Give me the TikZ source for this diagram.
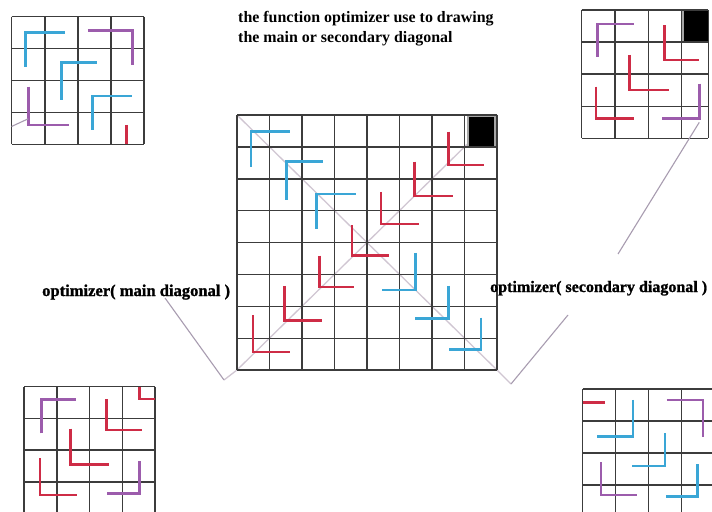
\documentclass[tikz,border=0pt]{standalone}
\usepackage{fontspec}
\setmainfont{Liberation Serif}
\newfontfamily\titlefont{Liberation Serif Bold}
\newfontfamily\lblfont{Liberation Serif Bold}[FakeBold=1.2]
\definecolor{lblue}{RGB}{58,166,214}
\definecolor{lred}{RGB}{206,44,70}
\definecolor{lpurple}{RGB}{156,92,172}
\definecolor{gridc}{RGB}{60,60,60}
\definecolor{diagc}{RGB}{208,198,210}
\definecolor{connc}{RGB}{168,156,176}
\tikzset{
  gridline/.style={draw=gridc, line width=1.5bp},
  Lb/.style={draw=lblue, line width=2.6bp},
  Lr/.style={draw=lred, line width=2.6bp},
  Lp/.style={draw=lpurple, line width=2.6bp},
  diagline/.style={draw=diagc, line width=1.3bp},
  connline/.style={draw=connc, line width=1.1bp},
  titletext/.style={inner sep=0pt, font=\titlefont\fontsize{16}{18}\selectfont},
  lbltext/.style={inner sep=0pt, font=\lblfont\fontsize{16.6}{19}\selectfont},
  lbltextsmall/.style={inner sep=0pt, font=\lblfont\fontsize{16.1}{19}\selectfont},
}
\begin{document}
\begin{tikzpicture}[x=1bp,y=-1bp]
\useasboundingbox (0,0) rectangle (712,512);
\clip (0,0) rectangle (712,512);
\fill[white] (0,0) rectangle (712,512);

% ---------- center grid ----------
\coordinate (cTL) at (237,115);
\coordinate (cTR) at (497,115);
\coordinate (cBL) at (237,370);
\coordinate (cBR) at (497,370);
\coordinate (extBL) at (224,380);
\coordinate (extBR) at (511,384);
\draw[diagline] (cTL) -- (cBR) -- (extBR);
\draw[diagline] (cTR) -- (cBL) -- (extBL);
\begin{scope}[shift={(237,115)}, x=32.5bp, y=-31.9bp]
  \fill[gray!70] (7.07,0.04) rectangle (7.97,1);
  \fill[black] (7.15,0.06) rectangle (7.9,1);
  \foreach \i in {0,...,8} {
    \draw[gridline] (\i,0) -- (\i,8);
    \draw[gridline] (0,\i) -- (8,\i);
  }
  % blue top-left
  \draw[Lb] (0.43,1.62) -- (0.43,0.52) -- (1.62,0.52);
  \draw[Lb] (1.52,2.65) -- (1.52,1.46) -- (2.65,1.46);
  \draw[Lb] (2.44,3.56) -- (2.44,2.48) -- (3.67,2.48);
  % red along secondary diagonal
  \draw[Lr] (6.51,0.52) -- (6.51,1.57) -- (7.61,1.57);
  \draw[Lr] (5.46,1.46) -- (5.46,2.54) -- (6.65,2.54);
  \draw[Lr] (4.43,2.41) -- (4.43,3.42) -- (5.59,3.42);
  \draw[Lr] (3.54,3.45) -- (3.54,4.41) -- (4.67,4.41);
  \draw[Lr] (2.54,4.41) -- (2.54,5.39) -- (3.61,5.39);
  \draw[Lr] (1.46,5.36) -- (1.46,6.45) -- (2.63,6.45);
  \draw[Lr] (0.49,6.28) -- (0.49,7.43) -- (1.62,7.43);
  % blue bottom-right
  \draw[Lb] (5.49,4.32) -- (5.49,5.49) -- (4.46,5.49);
  \draw[Lb] (6.51,5.36) -- (6.51,6.38) -- (5.49,6.38);
  \draw[Lb] (7.51,6.35) -- (7.51,7.35) -- (6.51,7.35);
\end{scope}

% ---------- top-left grid ----------
\begin{scope}[shift={(11.7,16.7)}, x=33.1bp, y=-31.9bp]
  \foreach \i in {0,...,4} {
    \draw[gridline] (\i,0) -- (\i,4);
    \draw[gridline] (0,\i) -- (4,\i);
  }
  \draw[Lb] (0.42,1.57) -- (0.42,0.49) -- (1.61,0.49);
  \draw[Lp] (2.30,0.44) -- (3.65,0.44) -- (3.65,1.51);
  \draw[Lb] (1.51,2.61) -- (1.51,1.43) -- (2.59,1.43);
  \draw[Lb] (2.44,3.55) -- (2.44,2.48) -- (3.63,2.48);
  \draw[Lp] (0.5,2.19) -- (0.5,3.39) -- (1.73,3.39);
  \draw[Lr] (3.47,3.39) -- (3.47,4);
  \coordinate (tlCorner) at (0.5,3.2);
\end{scope}
\coordinate (tlStub) at (11.5,126.5);
\draw[connline] (tlStub) -- (tlCorner);

% ---------- top-right grid ----------
\begin{scope}[shift={(581.7,10)}, x=33.3bp, y=-32.1bp]
  \fill[gray!70] (3.0,0.03) rectangle (3.1,0.99);
  \fill[black] (3.08,0.03) rectangle (3.78,0.99);
  \foreach \i in {0,...,3} {
    \draw[gridline] (\i,0) -- (\i,4);
  }
  \draw[gridline] (3.8,0) -- (3.8,4);
  \foreach \i in {0,...,4} {
    \draw[gridline] (0,\i) -- (3.8,\i);
  }
  \draw[Lp] (0.47,1.45) -- (0.47,0.44) -- (1.57,0.44);
  \draw[Lr] (2.48,0.47) -- (2.48,1.56) -- (3.53,1.56);
  \draw[Lr] (1.43,1.40) -- (1.43,2.49) -- (2.62,2.49);
  \draw[Lr] (0.43,2.39) -- (0.43,3.38) -- (1.57,3.38);
  \draw[Lp] (3.53,2.29) -- (3.53,3.38) -- (2.40,3.38);
  \coordinate (trCorner) at (3.53,3.5);
\end{scope}

% ---------- bottom-left grid ----------
\begin{scope}[shift={(24,386.7)}, x=32.75bp, y=-31.7bp]
  \foreach \i in {0,...,4} {
    \draw[gridline] (\i,0) -- (\i,4);
    \draw[gridline] (0,\i) -- (4,\i);
  }
  \draw[Lp] (0.54,1.47) -- (0.54,0.40) -- (1.59,0.40);
  \draw[Lr] (3.52,0) -- (3.52,0.39) -- (4,0.39);
  \draw[Lr] (2.52,0.39) -- (2.52,1.37) -- (3.59,1.37);
  \draw[Lr] (1.42,1.32) -- (1.42,2.45) -- (2.61,2.45);
  \draw[Lr] (0.49,2.26) -- (0.49,3.42) -- (1.63,3.42);
  \draw[Lp] (3.52,2.35) -- (3.52,3.37) -- (2.54,3.37);
\end{scope}

% ---------- bottom-right grid ----------
\begin{scope}[shift={(582.7,389)}, x=33bp, y=-32bp]
  \foreach \i in {0,...,4} {
    \draw[gridline] (\i,0) -- (\i,4);
    \draw[gridline] (0,\i) -- (4,\i);
  }
  \draw[Lr] (0,0.42) -- (0.68,0.42);
  \draw[Lb] (1.52,0.34) -- (1.52,1.49) -- (0.44,1.49);
  \draw[Lp] (2.55,0.34) -- (3.64,0.34) -- (3.64,1.49);
  \draw[Lb] (2.49,1.39) -- (2.49,2.40) -- (1.48,2.40);
  \draw[Lp] (0.55,2.29) -- (0.55,3.31) -- (1.64,3.31);
  \draw[Lb] (3.47,2.35) -- (3.47,3.36) -- (2.52,3.36);
\end{scope}

% ---------- texts ----------
\node[titletext, anchor=base west] (title1) at (238,23) {the function optimizer use to drawing};
\node[titletext, anchor=base west] (title2) at (238,43) {the main or secondary diagonal};
\node[lbltext, anchor=base west] (lblmain) at (42,296) {optimizer( main diagonal )};
\node[lbltextsmall, anchor=base west] (lblsec) at (490,292) {optimizer( secondary diagonal )};

% ---------- connectors ----------
\coordinate (mainEnd) at (165,298);
\coordinate (secLow) at (568,315);
\coordinate (secHigh) at (618,254);
\draw[connline] (mainEnd) -- (extBL);
\draw[connline] (extBR) -- (secLow);
\draw[connline] (secHigh) -- (trCorner);
\end{tikzpicture}
\end{document}
